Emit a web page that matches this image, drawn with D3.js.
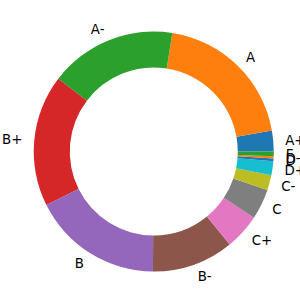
<!DOCTYPE html>
<html>
<head>
<meta charset="utf-8">
<script src="https://cdn.jsdelivr.net/npm/d3@7"></script>
<style>
  body { margin: 0; background: #fff; }
  text { font-family: "DejaVu Sans", sans-serif; font-size: 13.33px; fill: #000; }
</style>
</head>
<body>
<div id="chart-area"></div>
<script>
// grade distribution (percent)
var grades = ["A+", "A", "A-", "B+", "B", "B-", "C+", "C", "C-", "D+", "D", "D-", "F"];
var shares = [2.8, 19.7, 17.1, 17.7, 17.5, 11.0, 4.8, 4.1, 2.0, 1.9, 0.36, 0.28, 0.64];

var width = 300, height = 300;
var cx = 153.75, cy = 151.5;
var radius = 120;

var svg = d3.select("#chart-area").append("svg")
    .attr("width", width).attr("height", height);

var g = svg.append("g").attr("transform", "translate(" + cx + "," + cy + ")");

var color = d3.scaleOrdinal().domain(grades).range(d3.schemeCategory10);

var data = grades.map((gr, i) => ({grade: gr, value: shares[i]}));

// counter-clockwise from 3 o'clock, like matplotlib
var pie = d3.pie()
    .sort(null)
    .value(d => d.value)
    .startAngle(Math.PI / 2)
    .endAngle(Math.PI / 2 - 2 * Math.PI);

var arc = d3.arc()
    .innerRadius(radius * 0.7)
    .outerRadius(radius);

var labelArc = d3.arc()
    .innerRadius(radius * 1.1)
    .outerRadius(radius * 1.1);

var slices = pie(data);

g.selectAll("path").data(slices).enter().append("path")
    .attr("d", arc)
    .attr("fill", d => color(d.data.grade));

g.selectAll("text").data(slices).enter().append("text")
    .attr("x", d => labelArc.centroid(d)[0])
    .attr("y", d => labelArc.centroid(d)[1])
    .attr("dy", "0.36em")
    .attr("text-anchor", d => labelArc.centroid(d)[0] > 0 ? "start" : "end")
    .text(d => d.data.grade);
</script>
</body>
</html>
